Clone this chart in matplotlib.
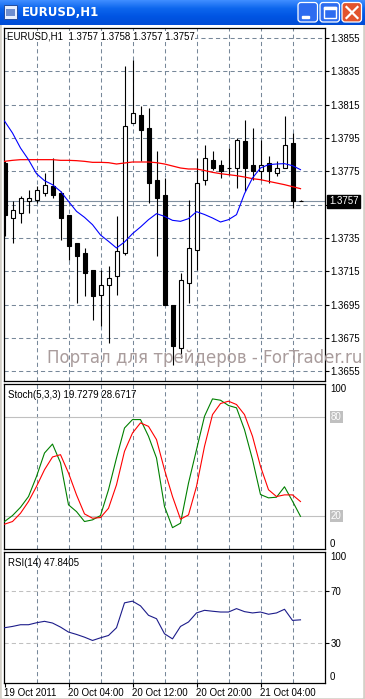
import numpy as np
import matplotlib.pyplot as plt
from matplotlib.patches import FancyBboxPatch, Rectangle
import matplotlib.transforms as mtrans

W, H = 365, 699

# EURUSD H1 bars, 19 Oct 2011 20:00 .. 21 Oct 2011 09:00
opens = [1.3780, 1.3747, 1.3750, 1.3757, 1.3758, 1.3762, 1.3766, 1.3762, 1.3749, 1.3732,
         1.3726, 1.3716, 1.3701, 1.3707, 1.3712, 1.3726, 1.3804, 1.3809, 1.3801, 1.3770,
         1.3761, 1.3695, 1.3669, 1.3708, 1.3728, 1.3770, 1.3782, 1.3779, 1.3777, 1.3777,
         1.3793, 1.3779, 1.3775, 1.3780, 1.3774, 1.3777, 1.3792, 1.3757]
highs = [1.3781, 1.3757, 1.3760, 1.3764, 1.3766, 1.3774, 1.3783, 1.3763, 1.3749, 1.3732,
         1.3729, 1.3716, 1.3716, 1.3718, 1.3748, 1.3838, 1.3842, 1.3814, 1.3813, 1.3787,
         1.3771, 1.3695, 1.3714, 1.3758, 1.3783, 1.3791, 1.3787, 1.3782, 1.3789, 1.3795,
         1.3806, 1.3801, 1.3794, 1.3784, 1.3781, 1.3808, 1.3798, 1.3758]
lows = [1.3736, 1.3732, 1.3744, 1.3750, 1.3756, 1.3760, 1.3759, 1.3734, 1.3722, 1.3696,
        1.3700, 1.3686, 1.3682, 1.3672, 1.3701, 1.3725, 1.3804, 1.3781, 1.3756, 1.3724,
        1.3695, 1.3659, 1.3663, 1.3696, 1.3716, 1.3767, 1.3776, 1.3771, 1.3773, 1.3765,
        1.3763, 1.3770, 1.3770, 1.3768, 1.3772, 1.3777, 1.3753, 1.3757]
closes = [1.3749, 1.3752, 1.3759, 1.3759, 1.3764, 1.3767, 1.3761, 1.3747, 1.3730, 1.3724,
          1.3714, 1.3700, 1.3707, 1.3711, 1.3727, 1.3802, 1.3810, 1.3800, 1.3768, 1.3759,
          1.3695, 1.3670, 1.3710, 1.3729, 1.3768, 1.3783, 1.3777, 1.3775, 1.3777, 1.3794,
          1.3777, 1.3775, 1.3779, 1.3775, 1.3777, 1.3791, 1.3757, 1.3757]

ma_slow = [1.37810, 1.37816, 1.37820, 1.37820, 1.37820, 1.37820, 1.37820, 1.37816, 1.37816, 1.37814,
           1.37810, 1.37804, 1.37804, 1.37802, 1.37794, 1.37800, 1.37806, 1.37806, 1.37806, 1.37802,
           1.37794, 1.37782, 1.37770, 1.37764, 1.37764, 1.37755, 1.37744, 1.37736, 1.37730, 1.37724,
           1.37716, 1.37706, 1.37700, 1.37690, 1.37680, 1.37670, 1.37658, 1.37646]
ma_fast = [1.38052, 1.37980, 1.37890, 1.37820, 1.37736, 1.37694, 1.37670, 1.37630, 1.37570, 1.37510,
           1.37474, 1.37430, 1.37368, 1.37330, 1.37290, 1.37326, 1.37376, 1.37416, 1.37460, 1.37496,
           1.37480, 1.37456, 1.37450, 1.37466, 1.37508, 1.37491, 1.37470, 1.37446, 1.37460, 1.37490,
           1.37616, 1.37710, 1.37770, 1.37790, 1.37794, 1.37796, 1.37784, 1.37760]

stoch_main = [16.6, 20.2, 25.2, 31.7, 43.8, 58.0, 63.4, 52.1, 26.7, 22.6,
              16.6, 17.6, 20.2, 35.8, 55.0, 73.1, 78.2, 78.2, 68.1, 55.0,
              25.7, 12.9, 15.6, 39.8, 60.0, 80.2, 90.7, 89.9, 86.7, 85.3,
              72.1, 54.1, 32.9, 30.9, 31.3, 37.6, 28.9, 19.73]
stoch_signal = [15.0, 16.6, 21.6, 28.7, 37.8, 47.9, 55.6, 57.0, 45.9, 32.7,
                21.2, 18.6, 19.0, 24.6, 38.8, 59.0, 70.1, 76.2, 74.1, 66.1,
                47.9, 31.7, 18.0, 20.6, 37.8, 62.0, 81.2, 87.9, 89.3, 87.3,
                81.2, 68.1, 49.9, 35.8, 31.7, 32.7, 32.7, 28.67]
rsi = [41.8, 42.8, 44.1, 44.1, 45.6, 46.7, 45.4, 42.3, 38.5, 36.7,
       34.6, 32.1, 34.1, 35.9, 41.8, 60.8, 62.1, 58.5, 51.3, 48.7,
       37.2, 33.3, 42.8, 46.2, 53.1, 55.1, 54.4, 53.8, 53.8, 56.4,
       54.1, 53.1, 53.8, 52.1, 53.1, 55.9, 47.4, 47.84]

price_ticks = [1.3655, 1.3675, 1.3695, 1.3715, 1.3735, 1.3755, 1.3775, 1.3795, 1.3815, 1.3835, 1.3855]
price_labels = ['1.3655', '1.3675', '1.3695', '1.3715', '1.3735', '', '1.3775', '1.3795', '1.3815', '1.3835', '1.3855']
time_bars = [0, 8, 16, 24, 32]
time_labels = ['19 Oct 2011', '20 Oct 04:00', '20 Oct 12:00', '20 Oct 20:00', '21 Oct 04:00']
grid_bars = list(range(4, 40, 4))

GRID = '#778899'
FONT = ['Liberation Sans', 'DejaVu Sans']
plt.rcParams['font.family'] = FONT

fig = plt.figure(figsize=(W / 100, H / 100), dpi=100, facecolor='white')


def px_axes(x0, y0, x1, y1, **kw):
    return fig.add_axes([x0 / W, 1 - y1 / H, (x1 - x0) / W, (y1 - y0) / H], **kw)


# window chrome
ax_bg = px_axes(0, 0, W, H, zorder=-5)
ax_bg.set_xlim(0, W)
ax_bg.set_ylim(H, 0)
ax_bg.axis('off')
ax_bg.add_patch(Rectangle((0, 0), W, H, color='#d4d0c8'))
ax_bg.add_patch(Rectangle((2, 24), W - 5, H - 26, color='white'))

stops = np.array([[0.24, 0.55, 1.0], [0.05, 0.40, 0.93], [0.0, 0.33, 0.89], [0.0, 0.30, 0.84]])
t = np.linspace(0, 1, 25)
grad = np.stack([np.interp(t, np.linspace(0, 1, 4), stops[:, k]) for k in range(3)], axis=-1)
ax_bg.imshow(grad[:, None, :], extent=(0, W, 25, 0), aspect='auto', zorder=1)
ax_bg.set_xlim(0, W)
ax_bg.set_ylim(H, 0)
ax_bg.add_patch(Rectangle((4, 5), 13, 14, facecolor='#e8f0ff', edgecolor='#254c9c', lw=0.7, zorder=2))
ax_bg.add_patch(Rectangle((6, 9), 9, 7, facecolor='#6f8fd0', edgecolor='none', zorder=3))
ax_bg.text(22, 12.5, 'EURUSD,H1', color='white', fontsize=8.5, fontweight='bold',
           family='DejaVu Sans', va='center', ha='left', zorder=3)
for bx, col in [(298, '#2d6cf0'), (320, '#2d6cf0'), (342, '#e2542d')]:
    ax_bg.add_patch(FancyBboxPatch((bx, 2.5), 19.5, 19.5, boxstyle='round,pad=0,rounding_size=3',
                                   facecolor=col, edgecolor='white', lw=0.9, zorder=3))
ax_bg.add_patch(Rectangle((302, 15.5), 7, 2.5, color='white', zorder=4))
ax_bg.add_patch(Rectangle((324, 6.5), 11.5, 11.5, facecolor='none', edgecolor='white', lw=1.0, zorder=4))
ax_bg.add_patch(Rectangle((324, 6.5), 11.5, 2.2, color='white', zorder=4))
ax_bg.plot([346.5, 357.5], [7, 18], color='white', lw=1.6, zorder=4)
ax_bg.plot([346.5, 357.5], [18, 7], color='white', lw=1.6, zorder=4)


def style_panel(ax):
    ax.set_facecolor('white')
    for s in ax.spines.values():
        s.set_color('black')
        s.set_linewidth(0.9)
    ax.set_xlim(-0.125, 40.0)
    for g in grid_bars:
        ax.axvline(g, color=GRID, lw=0.75, ls=(0, (4, 3)), zorder=0)
    ax.tick_params(axis='x', bottom=False, labelbottom=False)


# main price panel
ax = px_axes(3.5, 27.5, 324.5, 380.5)
style_panel(ax)
ax.set_ylim(1.36495, 1.38613)
ax.yaxis.tick_right()
ax.set_yticks(price_ticks, labels=price_labels)
ax.tick_params(axis='y', length=3, width=0.8, pad=1.5, labelsize=7, colors='black')
for p in price_ticks:
    ax.axhline(p, color=GRID, lw=0.75, ls=(0, (4, 3)), zorder=0)

x = np.arange(len(opens))
o = np.array(opens)
c = np.array(closes)
bull = c >= o
ax.vlines(x, lows, highs, color='black', lw=0.8, zorder=2)
ax.bar(x[bull], (c - o)[bull], bottom=o[bull], width=0.5, facecolor='white',
       edgecolor='black', lw=0.8, zorder=3)
ax.bar(x[~bull], (o - c)[~bull], bottom=c[~bull], width=0.5, facecolor='black',
       edgecolor='black', lw=0.8, zorder=3)
ax.plot(x, ma_slow, color='#ff0000', lw=0.9, zorder=4)
ax.plot(x, ma_fast, color='#0000ff', lw=0.8, zorder=4)
last = closes[-1]
ax.axhline(last, color='#8090a0', lw=0.8, zorder=1)
tr = mtrans.blended_transform_factory(ax.transAxes, ax.transData)
ax.text(1.014, last, f'{last:.4f}', transform=tr, color='white', fontsize=7, va='center', ha='left',
        bbox=dict(facecolor='black', edgecolor='black', pad=1.2), clip_on=False)
ax.text(0.011, 0.975, 'EURUSD,H1  1.3757 1.3758 1.3757 1.3757', transform=ax.transAxes,
        fontsize=7, va='center', ha='left', bbox=dict(facecolor='white', edgecolor='none', pad=0.3), zorder=5)

# stochastic panel
ax2 = px_axes(3.5, 383.5, 324.5, 549)
style_panel(ax2)
ax2.set_ylim(0, 100)
ax2.set_yticks([])
for lv in (80, 20):
    ax2.axhline(lv, color='#c0c0c0', lw=0.8, zorder=1)
xs = np.arange(len(stoch_main))
ax2.plot(xs, stoch_main, color='#008000', lw=0.8, zorder=3)
ax2.plot(xs, stoch_signal, color='#ff0000', lw=0.8, zorder=3)
tr2 = mtrans.blended_transform_factory(ax2.transAxes, ax2.transData)
ax2.text(1.017, 100, '100', transform=tr2, fontsize=7, va='top', ha='left')
ax2.text(1.017, 0, '0', transform=tr2, fontsize=7, va='bottom', ha='left')
for lv in (80, 20):
    ax2.text(1.02, lv, str(lv), transform=tr2, fontsize=7, color='white', va='center', ha='left',
             bbox=dict(facecolor='#c0c0c0', edgecolor='none', pad=0.8))
ax2.text(0.014, 0.93, 'Stoch(5,3,3) 19.7279 28.6717', transform=ax2.transAxes,
         fontsize=7, va='center', ha='left')

# RSI panel
ax3 = px_axes(3.5, 551.5, 324.5, 682.5)
style_panel(ax3)
ax3.set_ylim(0, 100)
ax3.yaxis.tick_right()
ax3.set_yticks([70, 30], labels=['70', '30'])
ax3.tick_params(axis='y', length=3, width=0.8, pad=1.5, labelsize=7)
for lv in (70, 30):
    ax3.axhline(lv, color='#c0c0c0', lw=0.75, ls=(0, (4, 3)), zorder=1)
ax3.plot(np.arange(len(rsi)), rsi, color='#1c1c8a', lw=0.8, zorder=3)
tr3 = mtrans.blended_transform_factory(ax3.transAxes, ax3.transData)
ax3.text(1.017, 100, '100', transform=tr3, fontsize=7, va='top', ha='left')
ax3.text(1.017, 0, '0', transform=tr3, fontsize=7, va='bottom', ha='left')
ax3.text(0.014, 0.91, 'RSI(14) 47.8405', transform=ax3.transAxes, fontsize=7, va='center', ha='left')
ax3.set_xticks(time_bars, labels=time_labels)
ax3.tick_params(axis='x', bottom=True, labelbottom=True, length=3, width=0.8, pad=0.8, labelsize=7)
for lbl in ax3.get_xticklabels():
    lbl.set_ha('left')

fig.text(47 / W, 1 - 358 / H, 'Портал для трейдеров - ForTrader.ru', family='DejaVu Sans',
         fontsize=12, color='#a99c9c', va='center', ha='left')

fig.savefig('out.png', dpi=100, facecolor=fig.get_facecolor())
